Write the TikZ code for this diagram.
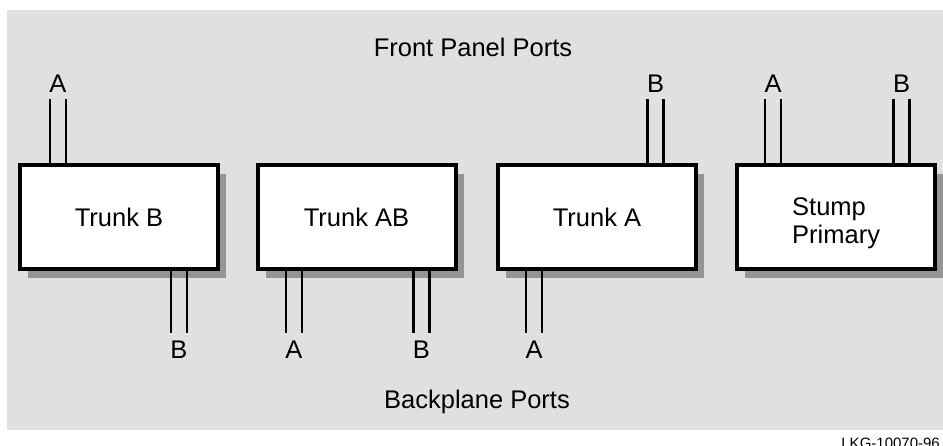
\documentclass[tikz,border=0pt]{standalone}
\usepackage{fontspec}
\setmainfont{Liberation Sans}
\usetikzlibrary{shadows}
\definecolor{bggray}{HTML}{E0E0E0}
\definecolor{shgray}{HTML}{959595}
\newcommand\diafont{\fontsize{25.5}{28}\selectfont}
\newcommand\topport[4]{%
  \node[plabel] (#1) at (#2,93) {#4};
  \draw[port] ({#2-8},99) -- ({#2-8},99 |- #3.north);
  \draw[port] ({#2+8},99) -- ({#2+8},99 |- #3.north);}
\newcommand\botport[4]{%
  \node[plabel] (#1) at (#2,359) {#4};
  \draw[port] ({#2-8},333) -- ({#2-8},333 |- #3.south);
  \draw[port] ({#2+8},333) -- ({#2+8},333 |- #3.south);}
\begin{document}
\begin{tikzpicture}[x=1pt,y=-1pt,
  box/.style={draw=black, line width=4pt, fill=white, minimum width=198pt,
    minimum height=104pt, inner sep=0pt, outer sep=0pt, font=\diafont,
    drop shadow={shadow xshift=8pt, shadow yshift=-9pt, fill=shgray, opacity=1}},
  plabel/.style={anchor=base, inner sep=0pt, font=\diafont},
  title/.style={anchor=base, inner sep=0pt, font=\diafont},
  port/.style={draw=black, line width=2.8pt}]
\useasboundingbox (0,0) rectangle (943,446);
\fill[bggray] (7,10) rectangle (943,430);

\node[title] (front) at (473,56.5) {Front Panel Ports};
\node[title] (back) at (477,409) {Backplane Ports};

\node[box] (b1) at (119,217) {Trunk B};
\node[box] (b2) at (356.5,217) {Trunk AB};
\node[box] (b3) at (597,217) {Trunk A};
\node[box] (b4) at (836,217) {};
\node[anchor=base west, align=left, inner sep=0pt, font=\diafont] (b4txt) at (792,244) {Stump\\Primary};

\topport{t1}{58}{b1}{A}
\topport{t3}{655.5}{b3}{B}
\topport{t4a}{773}{b4}{A}
\topport{t4b}{901.5}{b4}{B}

\botport{u1}{179}{b1}{B}
\botport{u2a}{294}{b2}{A}
\botport{u2b}{421.5}{b2}{B}
\botport{u3}{534}{b3}{A}

\node[anchor=base east, inner sep=0pt, font=\fontsize{15}{18}\selectfont] (lkg) at (940,448) {LKG-10070-96};
\end{tikzpicture}
\end{document}
